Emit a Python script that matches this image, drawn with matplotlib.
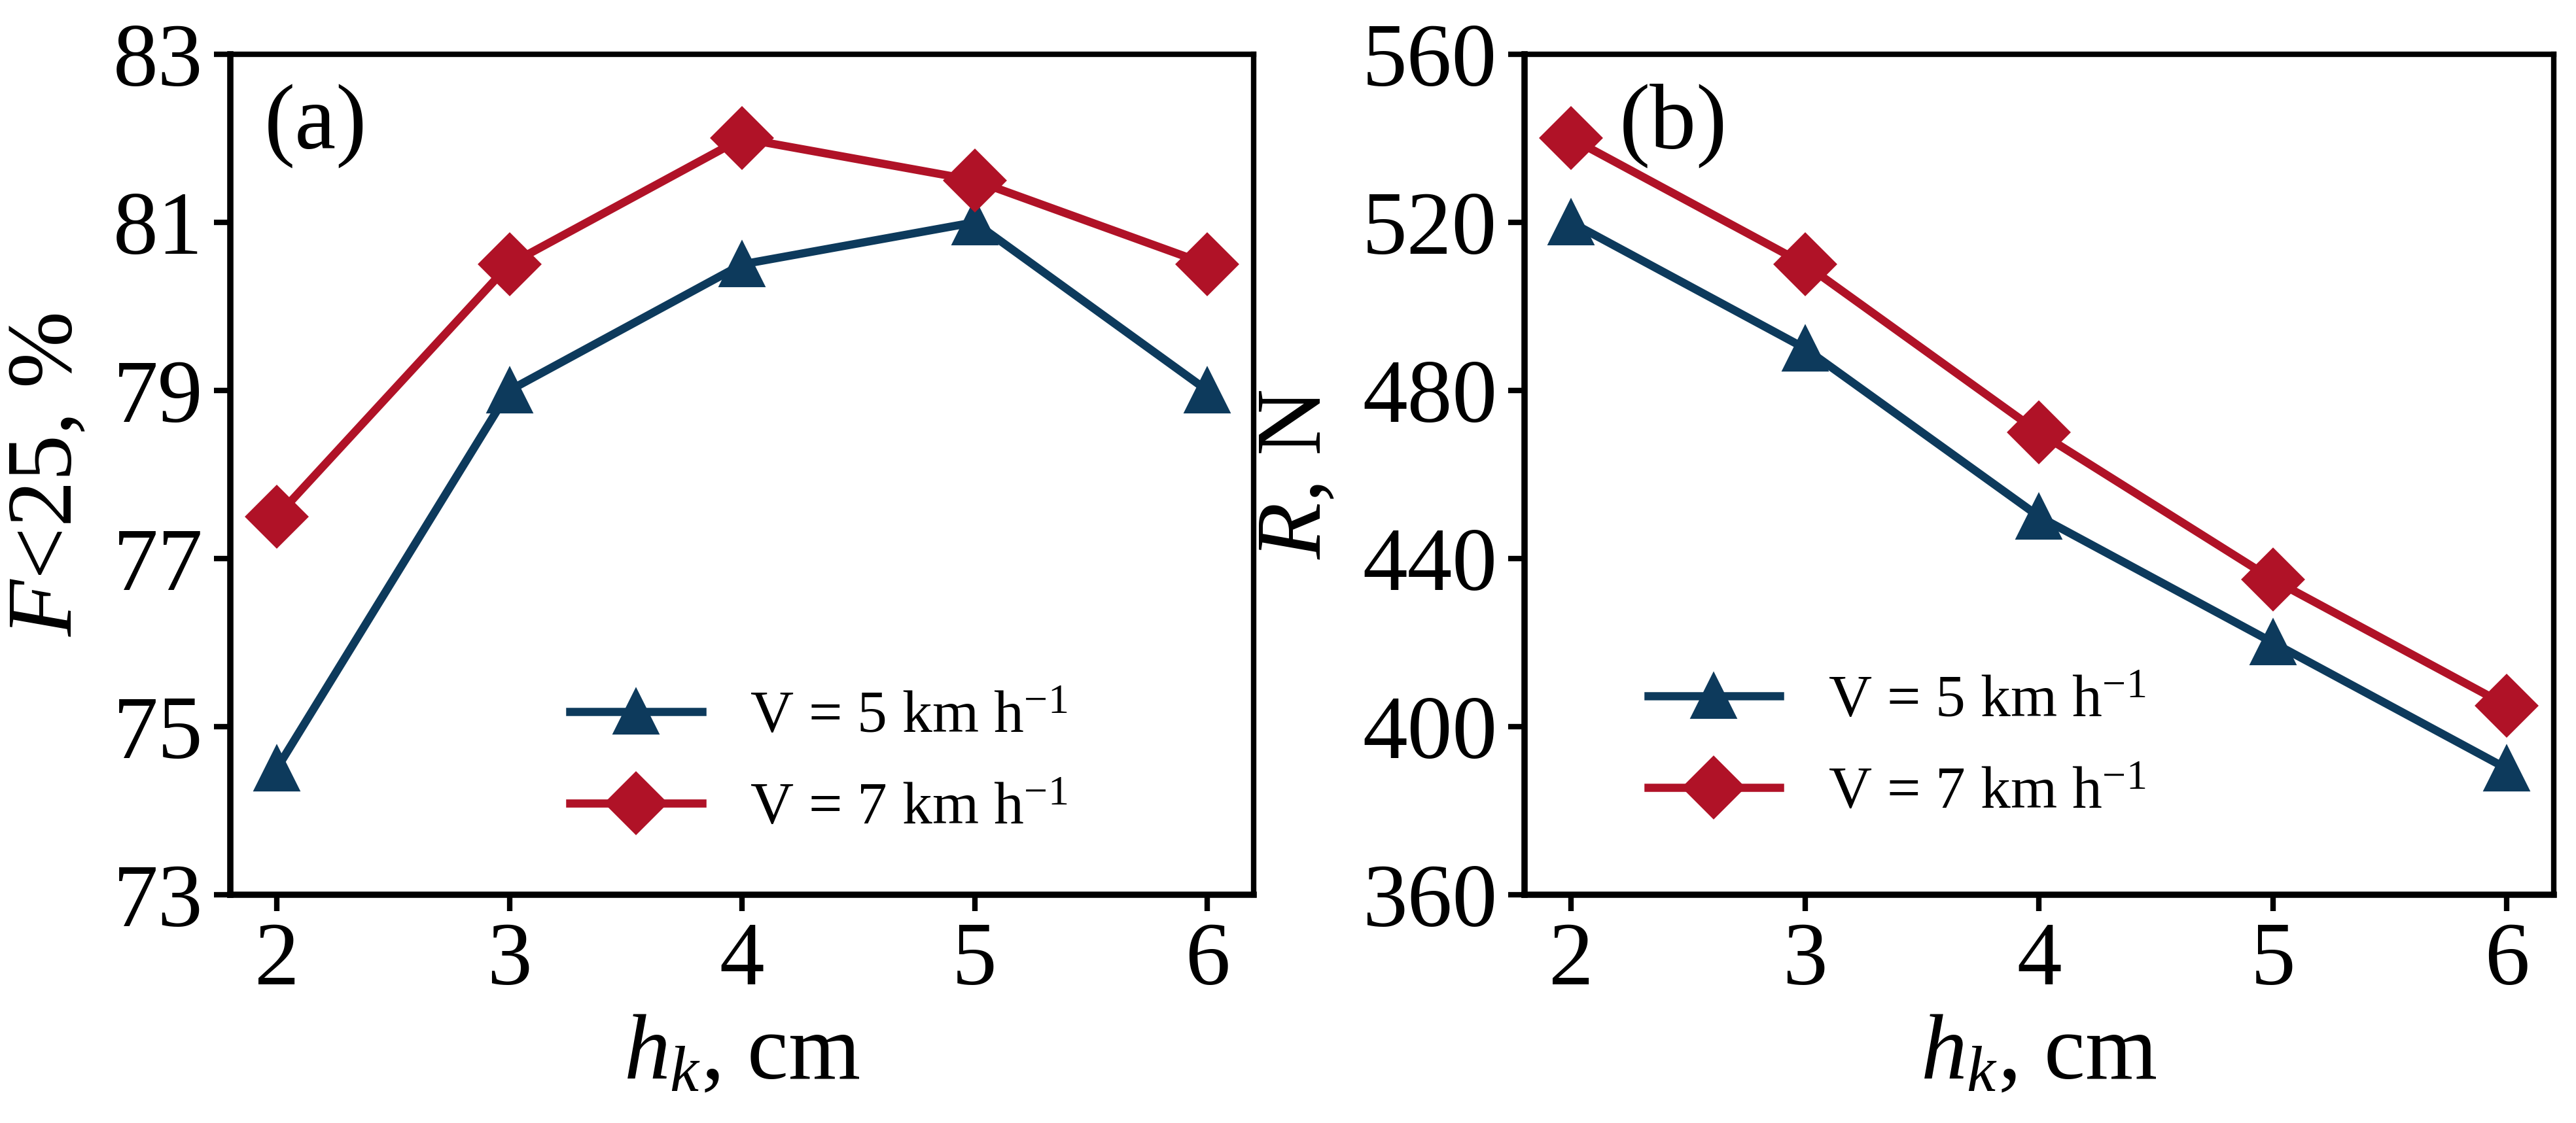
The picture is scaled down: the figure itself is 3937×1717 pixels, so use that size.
import matplotlib
matplotlib.use("Agg")
import matplotlib.pyplot as plt

# ===== data =====
hk = [2, 3, 4, 5, 6]
f25_v5 = [74.5, 79.0, 80.5, 81.0, 79.0]
f25_v7 = [77.5, 80.5, 82.0, 81.5, 80.5]
r_v5 = [520, 490, 450, 420, 390]
r_v7 = [540, 510, 470, 435, 405]

labels = ["V = 5 km h$^{-1}$", "V = 7 km h$^{-1}$"]
c_blue = "#0d3a5c"
c_red = "#b01227"

# ===== fonts =====
plt.rcParams["font.family"] = ["Liberation Serif", "DejaVu Serif"]
plt.rcParams["mathtext.fontset"] = "custom"
plt.rcParams["mathtext.rm"] = "Liberation Serif"
plt.rcParams["mathtext.it"] = "Liberation Serif:italic"
plt.rcParams["mathtext.bf"] = "Liberation Serif:bold"

fig = plt.figure(figsize=(3937 / 300, 1717 / 300), dpi=300)
ax1 = fig.add_axes([0.0894, 0.2033, 0.3973, 0.7484])
ax2 = fig.add_axes([0.5918, 0.2033, 0.3995, 0.7484])


def style(ax):
    for s in ax.spines.values():
        s.set_linewidth(2.0)
    ax.spines["left"].set_linewidth(2.3)
    ax.spines["bottom"].set_linewidth(2.3)
    ax.tick_params(labelsize=33, length=6, width=2, direction="out", pad=4)
    ax.set_xlim(1.8, 6.2)
    ax.set_xticks(hk)
    ax.set_xlabel("$h_k$, cm", fontsize=34, labelpad=4)


def add_legend(ax, x, y):
    ax.legend(loc="center left", bbox_to_anchor=(x, y), frameon=False,
              fontsize=22, handlelength=2.2, handletextpad=0.8, labelspacing=0.62,
              borderpad=0, borderaxespad=0)


# ===== (a) =====
ax1.plot(hk, f25_v5, color=c_blue, lw=3, marker="^", ms=16, label=labels[0])
ax1.plot(hk, f25_v7, color=c_red, lw=3, marker="D", ms=15.5, label=labels[1])
ax1.set_ylim(73, 83)
ax1.set_yticks([73, 75, 77, 79, 81, 83])
ax1.set_ylabel("$F$<25, %", fontsize=34, labelpad=8)
style(ax1)
ax1.text(0.033, 0.965, "(a)", transform=ax1.transAxes, fontsize=34, va="top", ha="left")
add_legend(ax1, 0.332, 0.156)

# ===== (b) =====
ax2.plot(hk, r_v5, color=c_blue, lw=3, marker="^", ms=16, label=labels[0])
ax2.plot(hk, r_v7, color=c_red, lw=3, marker="D", ms=15.5, label=labels[1])
ax2.set_ylim(360, 560)
ax2.set_yticks([360, 400, 440, 480, 520, 560])
ax2.set_ylabel("$R$, N", fontsize=34, labelpad=8)
style(ax2)
ax2.text(0.092, 0.965, "(b)", transform=ax2.transAxes, fontsize=34, va="top", ha="left")
add_legend(ax2, 0.120, 0.175)

fig.savefig("out.png", dpi=300)
